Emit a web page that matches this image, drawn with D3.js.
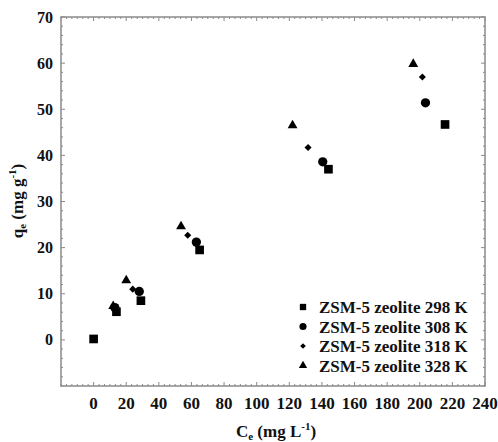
<!DOCTYPE html>
<html><head><meta charset="utf-8">
<script src="https://cdn.jsdelivr.net/npm/d3@7"></script>
<style>body{margin:0;background:#fff}svg{display:block}text{font-family:"Liberation Serif","Times New Roman",serif;font-weight:bold;fill:#111}</style>
</head><body><div id="chart"></div>
<script>
const seriesNames = ["ZSM-5 zeolite 298 K","ZSM-5 zeolite 308 K","ZSM-5 zeolite 318 K","ZSM-5 zeolite 328 K"];
const ce298 = [0, 14, 29, 65, 144, 215.5];
const qe298 = [0.2, 6.1, 8.5, 19.5, 37.0, 46.7];
const ce308 = [13, 28, 63, 140.5, 203.5];
const qe308 = [7.0, 10.5, 21.2, 38.6, 51.4];
const ce318 = [13, 24, 57.7, 131.5, 201.6];
const qe318 = [6.8, 11.0, 22.7, 41.7, 57.0];
const ce328 = [12, 20, 53.6, 122, 196];
const qe328 = [7.3, 12.9, 24.6, 46.5, 59.8];
const xTicks = [0,20,40,60,80,100,120,140,160,180,200,220,240];
const yTicks = [0,10,20,30,40,50,60,70];

const W=498,H=442;
const svg=d3.select("#chart").append("svg").attr("width",W).attr("height",H);
const x=d3.scaleLinear().domain([-20,240]).range([61,485]);
const y=d3.scaleLinear().domain([-10,70]).range([386,17]);
const frameColor="#8a8a8a";

const xMinor=d3.range(-20,240.01,20/6);
const yMinor=d3.range(-10,70.01,2);
const g=svg.append("g").attr("stroke",frameColor).attr("stroke-width",1);
xMinor.forEach(v=>{
  const major=xTicks.includes(Math.round(v*1000)/1000);
  const L=major?4:2;
  g.append("line").attr("x1",x(v)).attr("x2",x(v)).attr("y1",y(70)).attr("y2",y(70)+L);
  g.append("line").attr("x1",x(v)).attr("x2",x(v)).attr("y1",y(-10)).attr("y2",y(-10)-L);
});
yMinor.forEach(v=>{
  const major=yTicks.includes(v);
  const L=major?4:2;
  g.append("line").attr("y1",y(v)).attr("y2",y(v)).attr("x1",x(-20)).attr("x2",x(-20)+L);
  g.append("line").attr("y1",y(v)).attr("y2",y(v)).attr("x1",x(240)).attr("x2",x(240)-L);
});
svg.append("rect").attr("x",x(-20)).attr("y",y(70)).attr("width",x(240)-x(-20)).attr("height",y(-10)-y(70))
  .attr("fill","none").attr("stroke",frameColor).attr("stroke-width",1.5);

svg.append("g").selectAll("text").data(xTicks).join("text")
  .attr("x",d=>x(d)).attr("y",409).attr("text-anchor","middle").attr("font-size",17).text(d=>d);
svg.append("g").selectAll("text").data(yTicks).join("text")
  .attr("x",53).attr("y",d=>y(d)+5.5).attr("text-anchor","end").attr("font-size",16).text(d=>d);

const xt=svg.append("text").attr("x",276).attr("y",437).attr("text-anchor","middle").attr("font-size",17);
xt.append("tspan").text("C");
xt.append("tspan").attr("font-size",11).attr("dy",3).text("e");
xt.append("tspan").attr("dy",-3).text(" (mg L");
xt.append("tspan").attr("font-size",11).attr("dy",-7).text("-1");
xt.append("tspan").attr("dy",7).text(")");
const yt=svg.append("text").attr("transform","translate(23,201) rotate(-90)").attr("text-anchor","middle").attr("font-size",17);
yt.append("tspan").text("q");
yt.append("tspan").attr("font-size",11).attr("dy",3).text("e");
yt.append("tspan").attr("dy",-3).text(" (mg g");
yt.append("tspan").attr("font-size",11).attr("dy",-7).text("-1");
yt.append("tspan").attr("dy",7).text(")");

const symbols=[d3.symbolSquare,d3.symbolCircle,d3.symbolDiamond2,d3.symbolTriangle];
const sizes=[75,68,32,42];
const data=[[ce298,qe298],[ce308,qe308],[ce318,qe318],[ce328,qe328]];
[3,2,1,0].forEach(i=>{
  const [cx,cy]=data[i];
  svg.append("g").selectAll("path").data(cx.map((c,k)=>[c,cy[k]])).join("path")
    .attr("transform",d=>`translate(${x(d[0])},${y(d[1])})`)
    .attr("d",d3.symbol(symbols[i],sizes[i])).attr("fill","#000");
});

const legY=[307,326.5,346,365.5];
seriesNames.forEach((n,i)=>{
  svg.append("path").attr("transform",`translate(303,${legY[i]})`)
    .attr("d",d3.symbol(symbols[i],[40,40,20,30][i])).attr("fill","#000");
  svg.append("text").attr("x",319).attr("y",legY[i]+6).attr("font-size",17).text(n);
});
</script></body></html>
